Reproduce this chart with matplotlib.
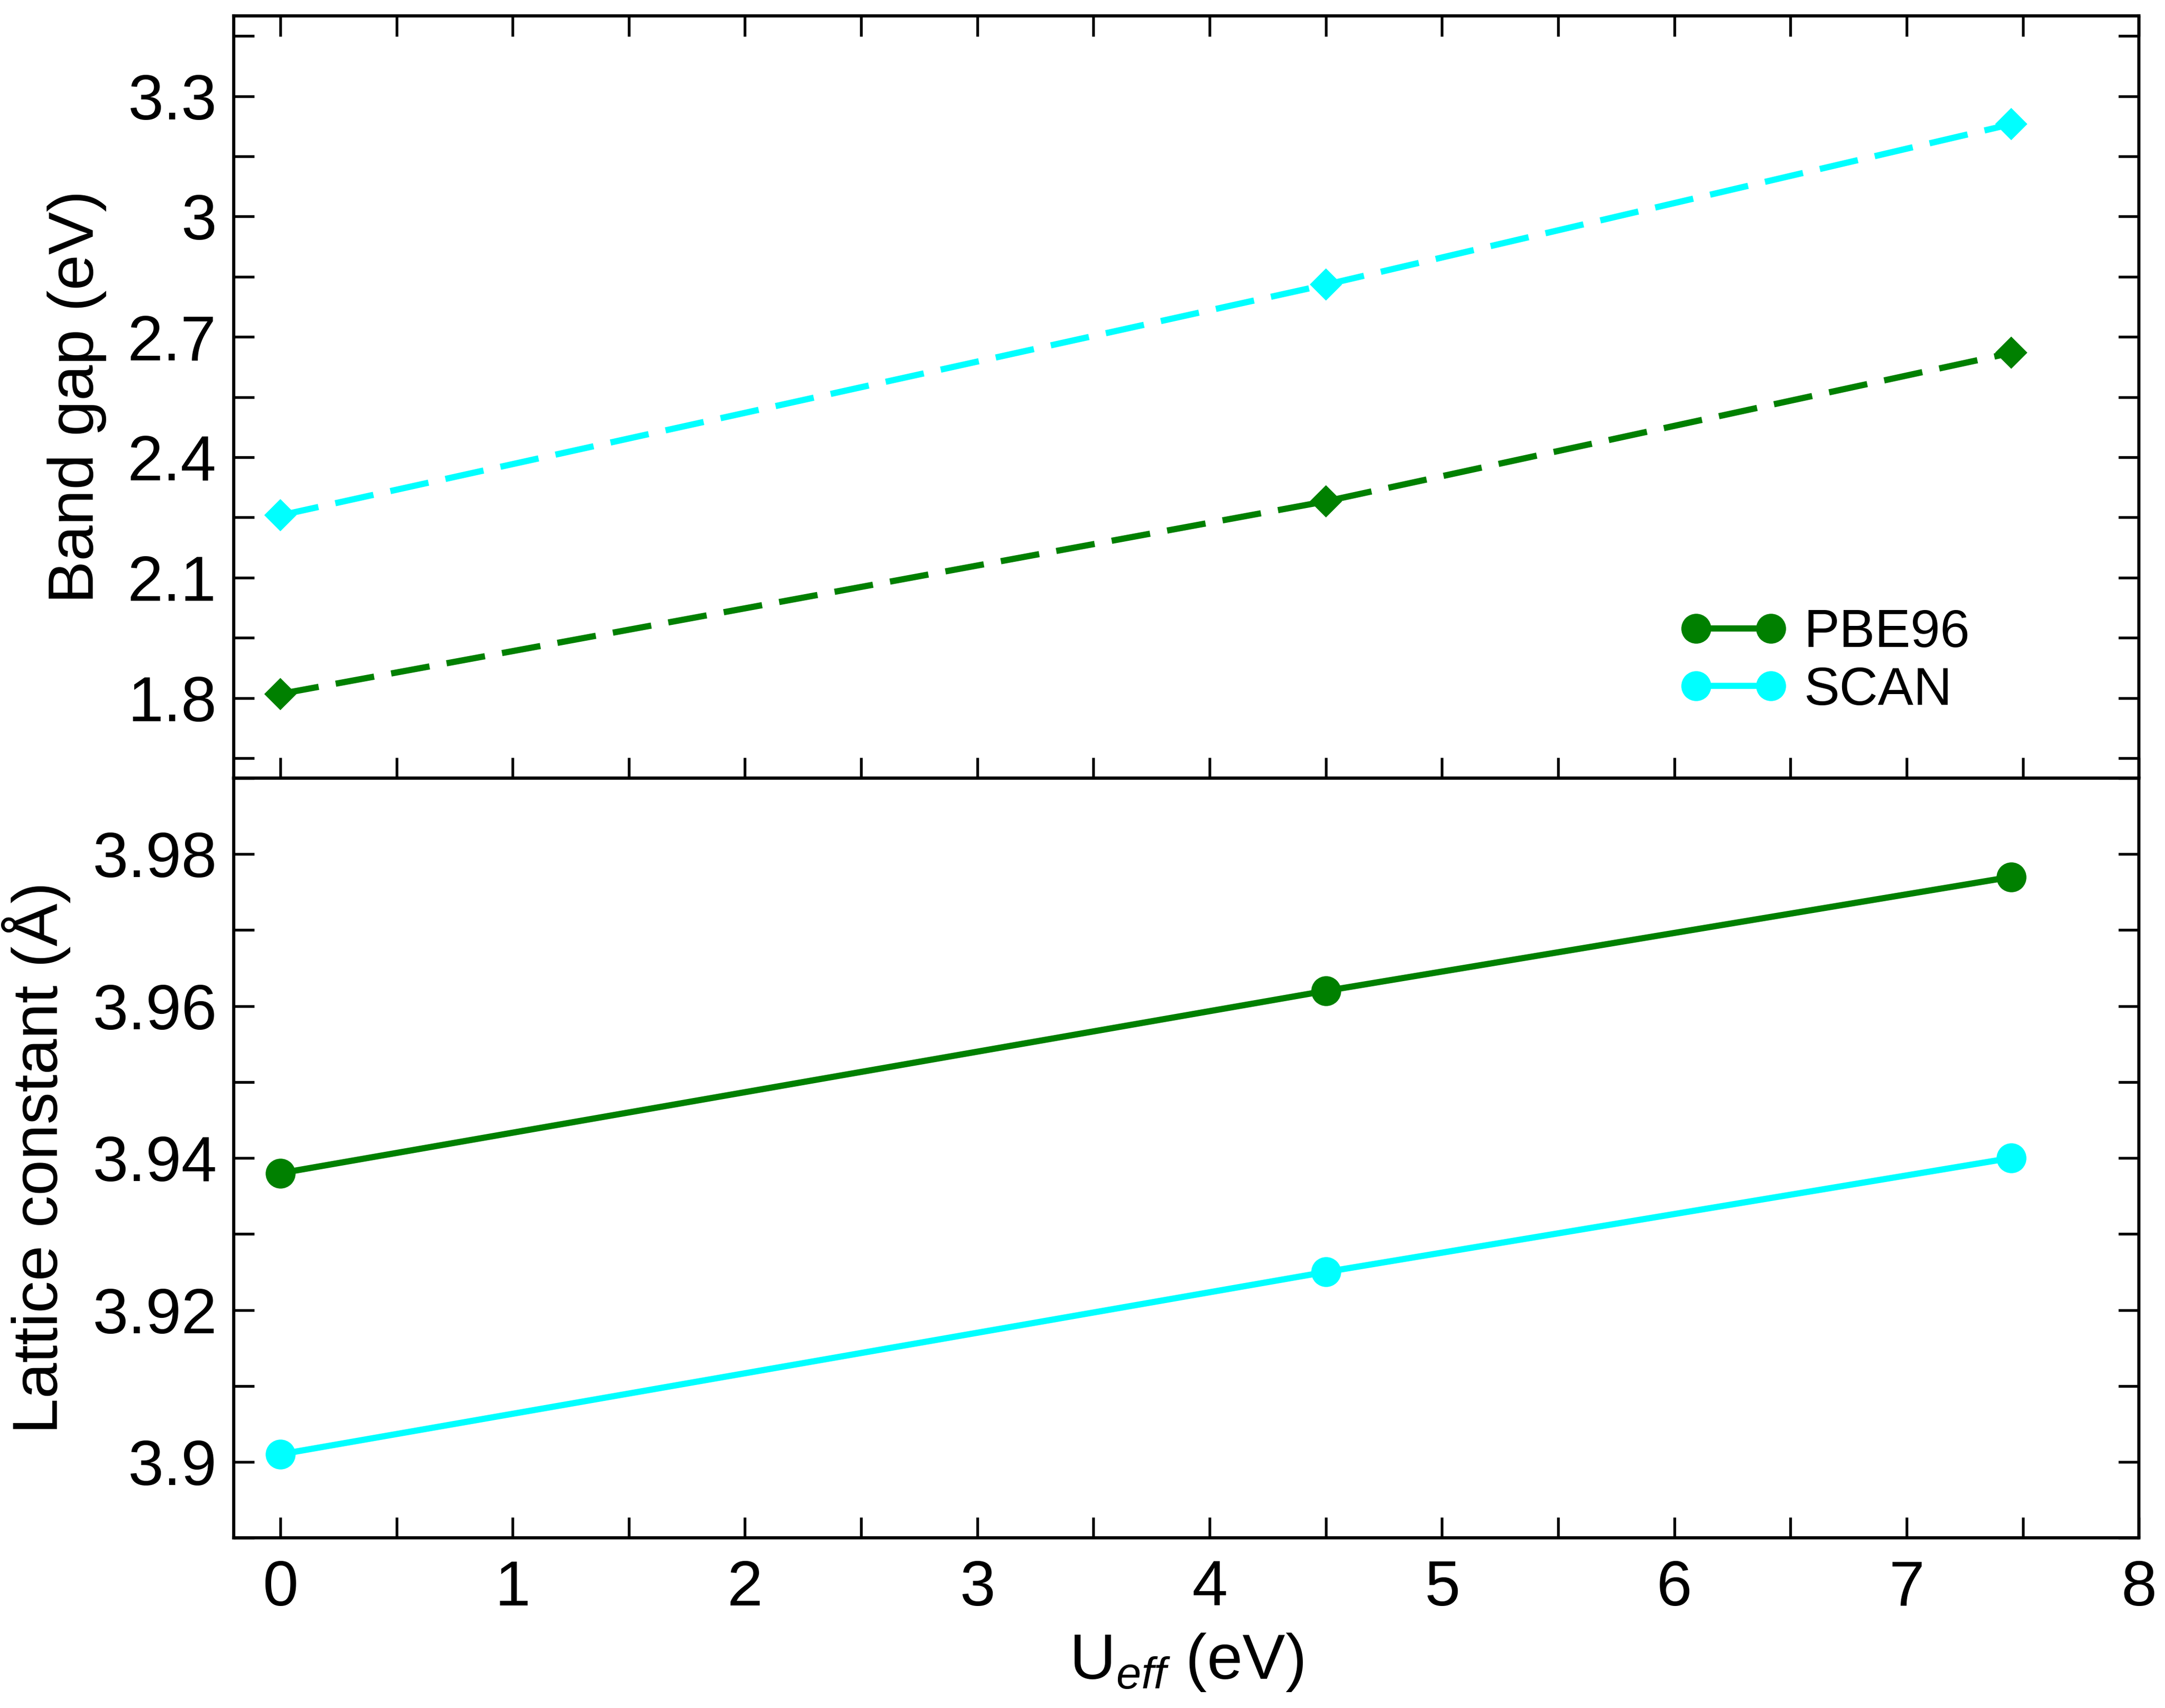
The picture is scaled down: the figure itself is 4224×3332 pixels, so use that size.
import matplotlib
matplotlib.use("Agg")
import matplotlib.pyplot as plt
from matplotlib.ticker import MultipleLocator, FuncFormatter

# ---- data ----
u_eff = [0.0, 4.5, 7.45]
gap_pbe96 = [1.81, 2.29, 2.66]
gap_scan = [2.255, 2.83, 3.23]
lat_pbe96 = [3.938, 3.962, 3.977]
lat_scan = [3.901, 3.925, 3.940]
series_names = ["PBE96", "SCAN"]
series_colors = ["#008000", "#00ffff"]

plt.rcParams['font.family'] = ['Liberation Sans', 'DejaVu Sans']
plt.rcParams['mathtext.fontset'] = 'custom'
plt.rcParams['mathtext.rm'] = 'Liberation Sans'
plt.rcParams['mathtext.it'] = 'Liberation Sans:italic'

DPI = 300
fig = plt.figure(figsize=(4224 / DPI, 3332 / DPI), dpi=DPI)
left, right = 0.108, 0.988
top, mid, bottom = 0.9907, 0.5444, 0.0996
ax1 = fig.add_axes([left, mid, right - left, top - mid])
ax2 = fig.add_axes([left, bottom, right - left, mid - bottom])

FS = 30
LW = 2.9
dash = (0, (6.3, 2.8))

ax1.plot(u_eff, gap_pbe96, color=series_colors[0], lw=LW, ls=dash,
         marker='D', ms=10.3, mec=series_colors[0], mew=0.5)
ax1.plot(u_eff, gap_scan, color=series_colors[1], lw=LW, ls=dash,
         marker='D', ms=10.3, mec=series_colors[1], mew=0.5)

l1, = ax2.plot(u_eff, lat_pbe96, color=series_colors[0], lw=LW, marker='o',
               ms=13.5, mec=series_colors[0], mew=0.5, label=series_names[0])
l2, = ax2.plot(u_eff, lat_scan, color=series_colors[1], lw=LW, marker='o',
               ms=13.5, mec=series_colors[1], mew=0.5, label=series_names[1])

fmt = FuncFormatter(lambda v, p: f"{v:g}")

for ax in (ax1, ax2):
    ax.set_xlim(-0.2, 8)
    ax.xaxis.set_major_locator(MultipleLocator(1))
    ax.xaxis.set_minor_locator(MultipleLocator(0.5))
    for s in ax.spines.values():
        s.set_linewidth(1.5)
    ax.tick_params(which='both', direction='in', length=9.6, width=1.3,
                   left=True, right=True, labelsize=FS, pad=8)
    ax.yaxis.set_major_formatter(fmt)

ax1.tick_params(which='both', top=True, bottom=True, labelbottom=False)
ax2.tick_params(which='both', top=False, bottom=True, labelbottom=True)
ax2.tick_params(axis='x', pad=10)

ax1.set_ylim(1.6, 3.5)
ax1.yaxis.set_major_locator(MultipleLocator(0.3))
ax1.yaxis.set_minor_locator(MultipleLocator(0.15))

ax2.set_ylim(3.89, 3.99)
ax2.yaxis.set_major_locator(MultipleLocator(0.02))
ax2.yaxis.set_minor_locator(MultipleLocator(0.01))

ax1.set_ylabel("Band gap (eV)", fontsize=FS, labelpad=10)
ax2.set_ylabel("Lattice constant (Å)", fontsize=FS, labelpad=10)
ax2.set_xlabel(r"U$_{\mathit{eff}}$ (eV)", fontsize=FS, labelpad=6)

ax1.legend(handles=[l1, l2], loc='center left', bbox_to_anchor=(0.759, 0.152),
           frameon=False, fontsize=25, handlelength=2.0, handletextpad=0.32,
           labelspacing=0.15, borderpad=0, borderaxespad=0, numpoints=2)

fig.savefig("out.png", dpi=DPI)
